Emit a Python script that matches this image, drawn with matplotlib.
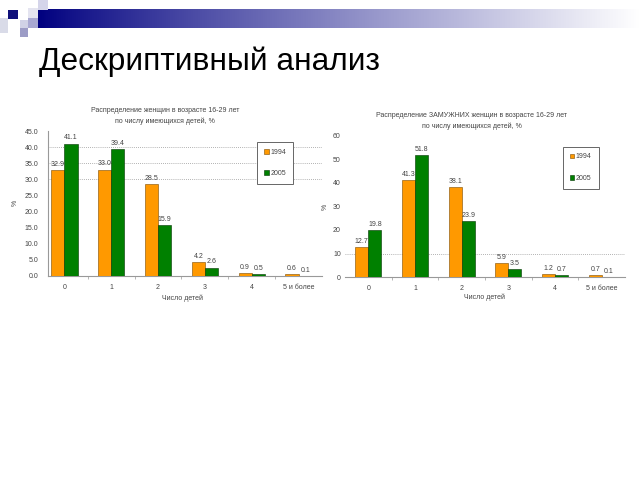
import matplotlib
matplotlib.use("Agg")
import matplotlib.pyplot as plt
import numpy as np
from matplotlib.patches import Rectangle

plt.rcParams['font.family'] = ['Liberation Sans', 'DejaVu Sans']

# data
categories = ["0", "1", "2", "3", "4", "5 и более"]
all_1994 = [32.9, 33.0, 28.5, 4.2, 0.9, 0.6]
all_2005 = [41.1, 39.4, 15.9, 2.6, 0.5, 0.1]
married_1994 = [12.7, 41.3, 38.1, 5.9, 1.2, 0.7]
married_2005 = [19.8, 51.8, 23.9, 3.5, 0.7, 0.1]
years = ["1994", "2005"]

ORANGE = "#FF9900"
GREEN = "#008000"
TXT = "#444444"
W, H = 640, 480


def px_axes(fig, x0, y0, x1, y1):
    # pixel box (top-left origin) -> figure axes
    return fig.add_axes([x0 / W, 1 - y1 / H, (x1 - x0) / W, (y1 - y0) / H])


fig = plt.figure(figsize=(6.4, 4.8), dpi=100)

# slide decoration: squares + gradient bar
deco = fig.add_axes([0, 0, 1, 1], zorder=-1)
deco.set_xlim(0, W)
deco.set_ylim(H, 0)
deco.axis("off")
grad = np.linspace(0, 1, 300)
c0 = np.array([0.0, 0.0, 0.5])
c1 = np.array([1.0, 1.0, 1.0])
cols = c0 + (c1 - c0) * (grad[:, None] ** 0.9)
deco.imshow(cols[None, :, :], extent=[38, 640, 28, 9], aspect="auto")
squares = [
    (0, 18, 8, 15, "#d9dbe8"),
    (8, 10, 10, 9, "#10107a"),
    (20, 20, 8, 8, "#d0d2e6"),
    (20, 28, 8, 9, "#9c9cc6"),
    (28, 8, 10, 10, "#e4e4f0"),
    (28, 18, 10, 10, "#a9a9d2"),
    (38, 0, 10, 10, "#d5d5ea"),
]
for x, y, w, h, c in squares:
    deco.add_patch(Rectangle((x, y), w, h, color=c, lw=0))

fig.text(39 / W, 1 - 70 / H, "Дескриптивный анализ", fontsize=22.8,
         va="baseline", ha="left", color="black")


def draw(ax, a, b, ylim, step, fmt, grid_vals, xlim, legend_xy):
    x = np.arange(len(categories))
    bw = 0.28
    b1 = ax.bar(x - bw / 2, a, bw, color=ORANGE, edgecolor="#7a4a00",
                linewidth=0.4, label=years[0], zorder=3)
    b2 = ax.bar(x + bw / 2, b, bw, color=GREEN, edgecolor="#003300",
                linewidth=0.4, label=years[1], zorder=3)
    for bars, vals in ((b1, a), (b2, b)):
        for r, v in zip(bars, vals):
            ax.text(r.get_x() + r.get_width() / 2, r.get_height() + ylim * 0.015,
                    "%.1f" % v, ha="center", va="bottom", fontsize=5, color=TXT)
    ax.set_ylim(0, ylim)
    ax.set_xlim(*xlim)
    ax.set_yticks(np.arange(0, ylim + 0.1, step))
    ax.set_yticklabels([fmt % t for t in np.arange(0, ylim + 0.1, step)])
    ax.set_xticks(x)
    ax.set_xticklabels(categories)
    ax.set_xticks(x[:-1] + 0.5, minor=True)
    ax.tick_params(axis="x", which="major", length=0, pad=6, labelsize=5, colors=TXT)
    ax.tick_params(axis="x", which="minor", length=2, width=0.5, color="#999999")
    ax.tick_params(axis="y", length=0, pad=7, labelsize=5, colors=TXT)
    for v in grid_vals:
        ax.axhline(v, color="#999999", lw=0.6, ls=(0, (1, 1.5)), zorder=1)
    for s in ("top", "right"):
        ax.spines[s].set_visible(False)
    ax.spines["bottom"].set_color("#999999")
    ax.spines["left"].set_color("#999999")
    leg = ax.legend(loc="upper left", bbox_to_anchor=legend_xy, fontsize=5,
                    frameon=True, fancybox=False, edgecolor="#666666",
                    handlelength=0.7, handleheight=0.7, handletextpad=0.2,
                    labelspacing=2.1, borderpad=1.0, framealpha=1)
    leg.get_frame().set_linewidth(0.7)
    for t in leg.get_texts():
        t.set_color(TXT)


ax1 = px_axes(fig, 48, 131, 322, 276)
draw(ax1, all_1994, all_2005, 45, 5, "%.1f", [30, 35, 40], (-0.35, 5.5),
     (0.75, 0.95))

ax2 = px_axes(fig, 345, 136, 625, 277)
draw(ax2, married_1994, married_2005, 60, 10, "%d", [10], (-0.5, 5.5),
     (0.765, 0.95))
ax2.spines["left"].set_visible(False)
ax2.tick_params(axis="y", pad=3)

# chart titles and axis labels
fig.text(165 / W, 1 - 116 / H, "Распределение женщин в возрасте 16-29 лет\nпо числу имеющихся детей, %",
         fontsize=5, ha="center", va="center", color=TXT, linespacing=1.5)
fig.text(472 / W, 1 - 121 / H, "Распределение ЗАМУЖНИХ женщин в возрасте 16-29 лет\nпо числу имеющихся детей, %",
         fontsize=5, ha="center", va="center", color=TXT, linespacing=1.5)
fig.text(182 / W, 1 - 298 / H, "Число детей", fontsize=5, ha="center", va="center", color=TXT)
fig.text(485 / W, 1 - 297 / H, "Число детей", fontsize=5, ha="center", va="center", color=TXT)
fig.text(15 / W, 1 - 203 / H, "%", fontsize=5, ha="center", va="center", color=TXT, rotation=90)
fig.text(325 / W, 1 - 207 / H, "%", fontsize=5, ha="center", va="center", color=TXT, rotation=90)

fig.savefig("out.png", dpi=100)
